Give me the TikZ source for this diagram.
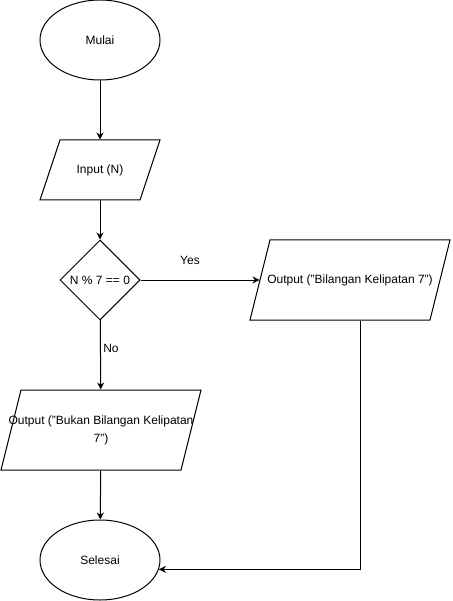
\documentclass[tikz,border=0pt]{standalone}
\usepackage{fontspec}
\setmainfont{Liberation Sans}
\usetikzlibrary{shapes.geometric,arrows.meta,calc}
\newcommand\paral[4]{\draw ([shift={(-#2+#4,-#3)}]#1.center) -- ([shift={(#2+#4,-#3)}]#1.center) -- ([shift={(#2-#4,#3)}]#1.center) -- ([shift={(-#2-#4,#3)}]#1.center) -- cycle;}
\begin{document}
\begin{tikzpicture}[x=1pt,y=-1pt, line width=1pt, font=\fontsize{12}{14}\selectfont,
 term/.style={ellipse, draw, minimum width=120pt, minimum height=80pt, inner sep=0pt},
 box/.style={inner sep=0pt, align=center},
 dec/.style={diamond, draw, minimum width=80pt, minimum height=80pt, inner sep=0pt, aspect=1},
 lbl/.style={inner sep=1pt},
 arr/.style={-{Stealth[length=7pt,width=7pt]}}]
\useasboundingbox (0,0) rectangle (452,601);
\node[term] (start) at (100,40) {Mulai};
\node[box, minimum width=100pt, minimum height=60pt] (in) at (100,170) {Input (N)};
\paral{in}{50}{30}{10}
\node[dec] (cond) at (100,280) {N \% 7 == 0};
\node[box, minimum width=180pt, minimum height=80pt] (yesout) at (350,280) {Output ("Bilangan Kelipatan 7")};
\paral{yesout}{90}{40}{10}
\node[box, minimum width=180pt, minimum height=80pt] (noout) at (101,430) {Output ("Bukan Bilangan Kelipatan\\[4pt]7")};
\paral{noout}{90}{40}{10}
\node[term] (end) at (100,560) {Selesai};
\draw[arr] (start) -- (in);
\draw[arr] (in) -- (cond);
\draw[arr] (cond) -- (yesout);
\draw[arr] (cond) -- (noout);
\draw[arr] (noout) -- (end);
\draw[arr] ([xshift=10pt]yesout.south) |- (end.-9.8);
\node[lbl] (yeslbl) at (190,260) {Yes};
\node[lbl] (nolbl) at (111,348) {No};
\end{tikzpicture}
\end{document}
